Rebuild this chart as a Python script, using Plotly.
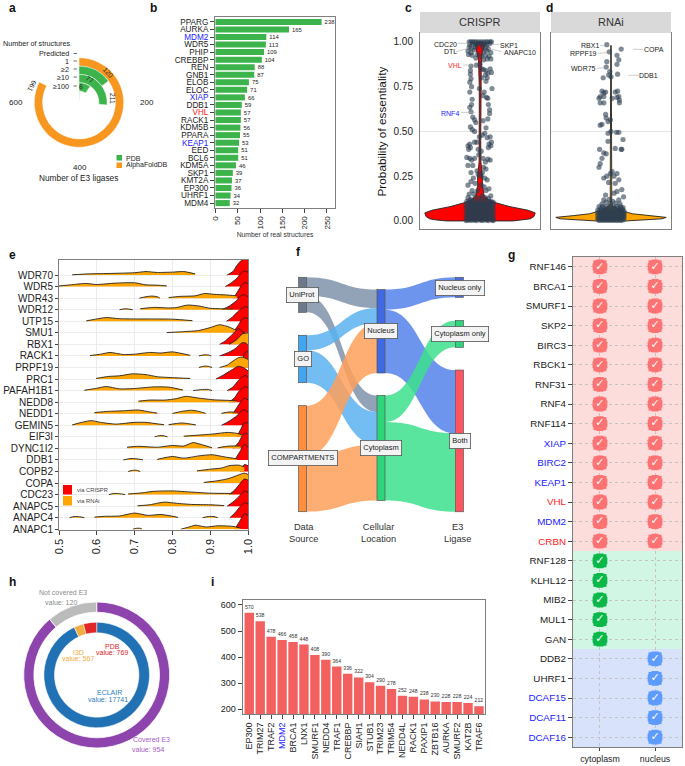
import plotly.graph_objects as go

W, H = 685, 766
FONT = "Liberation Sans"
TXT = "#222222"
BOX = "#7f7f7f"

# ---------- panel a
ring_labels = ["Predicted", "1", "≥2", "≥10", "≥100"]
ring_values = [661, 120, 211, 77, 6]
ring_source = ["AlphaFoldDB", "PDB", "PDB", "PDB", "PDB"]
ring_angle_total = 800

# ---------- panel b
b_genes = ["PPARG", "AURKA", "MDM2", "WDR5", "PHIP", "CREBBP", "REN", "GNB1", "ELOB", "ELOC", "XIAP", "DDB1", "VHL",
           "RACK1", "KDM5B", "PPARA", "KEAP1", "EED", "BCL6", "KDM5A", "SKP1", "KMT2A", "EP300", "UHRF1", "MDM4"]
b_values = [238, 165, 114, 113, 109, 104, 88, 87, 75, 71, 66, 59, 57, 57, 56, 55, 53, 51, 51, 46, 39, 37, 36, 34, 32]
blue_names = {"MDM2", "XIAP", "KEAP1", "BIRC2", "DCAF15", "DCAF11", "DCAF16"}
red_names = {"VHL", "CRBN"}

# ---------- panel c
crispr_points = [
 (-.18,1.0),(-.15,1.0),(-.12,1.0),(-.09,1.0),(-.06,1.0),(-.02,1.0),(.02,1.0),(.06,1.0),(.1,1.0),(.13,1.0),(.17,1.0),(.19,1.0),
 (-.17,.985),(-.12,.99),(-.07,.985),(-.03,.99),(.03,.985),(.08,.99),(.12,.985),(.16,.99),
 (-.18,.97),(-.14,.965),(-.08,.97),(.05,.97),(.1,.97),(.14,.96),(-.2,.95),(-.15,.94),(-.1,.955),(.06,.945),(.11,.95),(.18,.94),
 (-.19,.93),(-.13,.925),(-.04,.93),(.03,.92),(.09,.925),(.15,.92),(.06,.9),(.12,.905),(-.07,.91),(.18,.905),
 (-.06,.87),(.0,.875),(-.15,.865),(-.16,.84),(.03,.85),(.06,.845),(.17,.85),(.1,.84),(.19,.83),(.13,.825),(.09,.815),(-.16,.82),
 (-.15,.795),(-.17,.775),(.03,.8),(.12,.8),(.1,.78),(.2,.74),(-.14,.75),(-.17,.72),(-.01,.74),(.07,.72),(.05,.7),(.11,.69),(.13,.685),
 (-.13,.68),(-.14,.65),(-.17,.635),(.14,.65),(.16,.62),(.16,.6),(-.15,.61),(-.12,.58),(-.09,.565),(-.07,.55),(.05,.56),(.13,.57),
 (-.13,.51),(-.16,.525),(-.09,.5),(.1,.52),(.08,.49),(.04,.48),(-.01,.47),(.17,.47),(.12,.465),(.19,.44),(.15,.43),(.14,.41),(.18,.42),
 (-.17,.43),(-.16,.41),(-.2,.42),(-.19,.4),(-.09,.44),(-.05,.44),(-.03,.4),(.02,.39),(-.02,.37),(-.22,.355),(-.17,.35),(-.14,.34),
 (-.09,.35),(.05,.35),(.09,.33),(.13,.345),(.17,.34),(-.2,.31),(-.12,.31),(.06,.3),(.1,.29),(-.05,.28),(-.15,.27),(.04,.27),(-.03,.26),
 (.02,.25),(.08,.24),(-.11,.24),(.12,.23),(-.15,.22),(-.08,.21),(-.2,.2),(.02,.2),(.07,.19),(.15,.18),(-.13,.17),(-.04,.17),(.1,.17),
 (-.1,.15),(-.18,.15),(.03,.14),(.18,.14),(-.2,.13),(.09,.13),(-.07,.13),(.14,.125),(-.15,.12),(.0,.125),
 (-.22,.11),(-.17,.115),(-.11,.11),(-.05,.11),(.02,.11),(.07,.115),(.12,.11),(.18,.11),(.22,.105),
 (-.23,.09),(-.18,.095),(-.13,.09),(-.08,.095),(-.03,.09),(.02,.095),(.07,.09),(.12,.095),(.17,.09),(.22,.09),
 (-.23,.075),(-.18,.07),(-.13,.075),(-.08,.07),(-.03,.075),(.02,.07),(.07,.075),(.12,.07),(.17,.075),(.22,.07),
 (-.23,.055),(-.18,.05),(-.13,.055),(-.08,.05),(-.03,.055),(.02,.05),(.07,.055),(.12,.05),(.17,.055),(.22,.05),
 (-.23,.035),(-.18,.03),(-.13,.035),(-.08,.03),(-.03,.035),(.02,.03),(.07,.035),(.12,.03),(.17,.035),(.22,.03),
 (-.23,.015),(-.18,.01),(-.13,.015),(-.08,.01),(-.03,.015),(.02,.01),(.07,.015),(.12,.01),(.17,.015),(.22,.01),
 (-.23,.002),(-.15,.003),(-.06,.002),(.04,.003),(.14,.002),(.22,.002),
 (-.2,.1),(-.15,.1),(-.1,.1),(-.05,.1),(0,.1),(.05,.1),(.1,.1),(.15,.1),(.2,.1),
 (-.2,.083),(-.15,.083),(-.1,.083),(-.05,.083),(0,.083),(.05,.083),(.1,.083),(.15,.083),(.2,.083),
 (-.2,.063),(-.15,.063),(-.1,.063),(-.05,.063),(0,.063),(.05,.063),(.1,.063),(.15,.063),(.2,.063),
 (-.2,.043),(-.15,.043),(-.1,.043),(-.05,.043),(0,.043),(.05,.043),(.1,.043),(.15,.043),(.2,.043),
 (-.2,.023),(-.15,.023),(-.1,.023),(-.05,.023),(0,.023),(.05,.023),(.1,.023),(.15,.023),(.2,.023),
 (-.2,.005),(-.1,.005),(0,.005),(.1,.005),(.2,.005),
]
crispr_violin_y = [0.0, .005, .012, .025, .045, .06, .08, .10, .12, .14, .17, .2, .25, .28, .33, .45, .6, .75, .84, .9, .94, .97, .985, 1.0]
crispr_violin_w = [.55, .72, .84, .90, .92, .80, .50, .28, .14, .07, .05, .04, .04, .03, .015, .012, .012, .012, .02, .025, .04, .07, .08, .05]

# ---------- panel d
rnai_points = [
 (-.07,.985),(-.03,.945),(.17,.96),(.1,.925),(.13,.9),(-.07,.89),(-.08,.86),(.1,.875),(.11,.82),(-.04,.815),(0,.805),(-.13,.8),(-.02,.835),
 (-.15,.725),(-.12,.715),(-.09,.72),(.11,.725),(.07,.72),(-.18,.695),(-.2,.685),(-.12,.695),(.02,.685),(.1,.69),(.13,.695),(.14,.675),
 (-.12,.66),(-.18,.66),(.14,.66),(-.09,.595),(-.08,.575),(-.01,.565),(-.05,.555),(-.15,.54),(-.18,.535),(0,.5),(.09,.495),(.13,.495),(-.05,.49),
 (.2,.455),(-.05,.445),(.07,.405),(.18,.4),(.17,.4),(-.19,.4),(-.12,.38),(-.08,.375),(-.15,.35),(-.18,.32),(-.2,.3),(.02,.275),(-.01,.265),
 (.1,.265),(.05,.25),(-.07,.25),(-.12,.24),(.13,.23),(.07,.21),(-.04,.215),(.18,.175),(.1,.165),(.05,.155),(-.09,.145),(.21,.135),(-.12,.118),(.13,.118),
 (-.03,.12),(.03,.11),(-.08,.105),(.08,.1),(-.15,.095),(.15,.095),(-.01,.095),
 (-.2,.08),(-.14,.08),(-.08,.08),(-.02,.08),(.04,.08),(.1,.08),(.16,.08),(.2,.075),
 (-.22,.06),(-.16,.06),(-.1,.06),(-.04,.06),(.02,.06),(.08,.06),(.14,.06),(.2,.06),
 (-.22,.045),(-.16,.045),(-.1,.045),(-.04,.045),(.02,.045),(.08,.045),(.14,.045),(.2,.045),
 (-.22,.03),(-.16,.03),(-.1,.03),(-.04,.03),(.02,.03),(.08,.03),(.14,.03),(.2,.03),
 (-.22,.015),(-.16,.015),(-.1,.015),(-.04,.015),(.02,.015),(.08,.015),(.14,.015),(.2,.015),
 (-.19,.003),(-.13,.003),(-.07,.003),(-.01,.003),(.05,.003),(.11,.003),(.17,.003),
 (-.17,.07),(-.11,.07),(-.05,.07),(.01,.07),(.07,.07),(.13,.07),(.18,.068),
 (-.19,.052),(-.13,.052),(-.07,.052),(-.01,.052),(.05,.052),(.11,.052),(.17,.052),(.22,.052),
 (-.19,.037),(-.13,.037),(-.07,.037),(-.01,.037),(.05,.037),(.11,.037),(.17,.037),(.22,.037),
 (-.19,.022),(-.13,.022),(-.07,.022),(-.01,.022),(.05,.022),(.11,.022),(.17,.022),(.22,.022),
 (-.21,.007),(-.15,.007),(-.09,.007),(-.03,.007),(.03,.007),(.09,.007),(.15,.007),(.21,.007),
]
rnai_violin_y = [0.0, .006, .012, .02, .03, .04, .055, .07, .085, .1, .2, .4, .6, .72, .8, .9, .98]
rnai_violin_w = [.25, .55, .85, .92, .62, .36, .2, .09, .025, .012, .012, .01, .01, .012, .008, .006, .004]

# ---------- panel e (top row first): each piece = (x values, density heights)
e_genes = ["WDR70","WDR5","WDR43","WDR12","UTP15","SMU1","RBX1","RACK1","PRPF19","PRC1","PAFAH1B1","NEDD8","NEDD1",
           "GEMIN5","EIF3I","DYNC1I2","DDB1","COPB2","COPA","CDC23","ANAPC5","ANAPC4","ANAPC1"]
e_rnai = {
 "WDR70": [([.535,.58,.64,.70,.73,.76,.80,.83,.86],[.02,.1,.14,.2,.3,.22,.25,.3,.1])],
 "WDR5": [([.5,.53,.57,.60,.65,.70,.73,.76,.785],[.05,.15,.27,.18,.3,.33,.15,.12,.06])],
 "WDR43": [([.713,.73,.745,.76,.767],[0,.12,.18,.12,0]),([.79,.82,.86,.885,.91,.94,.97],[.05,.15,.2,.4,.33,.28,.2])],
 "WDR12": [([.66,.675,.685,.695],[0,.08,.05,0]),([.715,.75,.79,.81,.84,.87,.90,.93,.96],[.08,.2,.15,.18,.4,.32,.12,.08,.05])],
 "UTP15": [([.572,.60,.625,.66,.70,.75,.80,.853],[.03,.2,.32,.22,.2,.2,.18,.05])],
 "SMU1": [([.785,.83,.87,.90,.925,.95,.97,.99],[.02,.1,.2,.45,.7,.5,.2,.05])],
 "RBX1": [([.95,.97,.985,1.0],[0,.4,.9,1.0])],
 "RACK1": [([.582,.61,.635,.67,.70,.74,.77,.80,.847],[.03,.15,.3,.12,.15,.3,.25,.35,.05]),([.87,.885,.895,.903],[0,.1,.08,0])],
 "PRPF19": [([.87,.885,.895,.905],[0,.12,.1,0]),([.925,.945,.96,.975,.985,1.0],[0,.2,.55,.85,.9,.7])],
 "PRC1": [([.598,.63,.66,.695,.73,.76,.80,.847],[.05,.22,.28,.45,.38,.2,.12,.05])],
 "PAFAH1B1": [([.567,.60,.625,.66,.70,.75,.79,.828],[.03,.2,.35,.15,.18,.32,.3,.05]),([.855,.875,.895,.905],[0,.08,.1,0])],
 "NEDD8": [([.71,.74,.78,.81,.835,.87,.91,.95,.97],[.08,.18,.18,.3,.5,.35,.2,.15,.1])],
 "NEDD1": [([.594,.63,.67,.71,.74,.76],[.1,.2,.25,.32,.15,.05]),([.80,.825,.85,.87,.888],[.02,.2,.3,.2,.02]),([.93,.95,.97],[.03,.15,.12])],
 "GEMIN5": [([.535,.56,.585,.61,.65,.70,.73,.76,.778],[.03,.25,.4,.25,.1,.25,.25,.12,.05]),([.79,.81,.825,.845,.862],[.05,.15,.2,.12,.03])],
 "EIF3I": [([.753,.765,.775,.787],[0,.1,.1,0]),([.83,.87,.91,.945,.97,.99],[.05,.15,.25,.38,.3,.1])],
 "DYNC1I2": [([.68,.71,.76,.80,.83,.855,.88,.905],[.1,.18,.1,.25,.2,.5,.3,.05]),([.92,.95,.98],[.05,.2,.2])],
 "DDB1": [([.67,.69,.705,.722],[0,.12,.1,0]),([.76,.80,.83,.87,.905,.94,.97],[.05,.3,.15,.35,.45,.25,.1])],
 "COPB2": [([.683,.695,.705,.715],[0,.1,.1,0]),([.865,.90,.93,.95,.975,.99],[.05,.2,.3,.5,.55,.4])],
 "COPA": [([.883,.92,.95,.975,.99,1.0],[.05,.2,.4,.7,.85,.75])],
 "CDC23": [([.632,.645,.66,.675],[0,.1,.08,0]),([.683,.72,.75,.80,.85,.90,.96],[.05,.15,.28,.32,.22,.12,.1])],
 "ANAPC5": [([.708,.74,.76,.78,.81,.85,.90,.937],[.03,.12,.25,.35,.25,.15,.12,.05])],
 "ANAPC4": [([.528,.54,.555,.567],[0,.1,.08,0]),([.594,.62,.66,.70,.735,.77,.815],[.05,.12,.15,.4,.2,.28,.03]),([.88,.895,.91,.92],[0,.1,.1,0])],
 "ANAPC1": [([.695,.705,.715,.72],[0,.08,.08,0]),([.822,.85,.86,.89,.92,.96,.98],[0,.25,.35,.2,.3,.25,.1])],
}
e_crispr = {
 "WDR70": ([.945,.96,.97,.98,.99,1.0],[0,.3,.8,1.2,1.4,1.3]),
 "WDR5": ([.94,.955,.97,.98,.99,1.0],[0,.3,.7,1.1,1.35,1.25]),
 "WDR43": ([.962,.975,.985,.995,1.0],[0,.7,1.2,1.35,1.25]),
 "WDR12": ([.93,.95,.97,.98,.99,1.0],[0,.3,.8,1.2,1.3,1.1]),
 "UTP15": ([.943,.96,.975,.985,.995,1.0],[0,.4,.9,1.15,1.25,1.2]),
 "SMU1": ([.96,.975,.985,.995,1.0],[0,.7,1.2,1.3,1.2]),
 "RBX1": ([.925,.94,.96,.975,.985,1.0],[0,.3,.9,1.35,1.1,.8]),
 "RACK1": ([.925,.945,.965,.985,.995,1.0],[0,.25,.6,1.15,1.1,.9]),
 "PRPF19": ([.97,.985,.995,1.0],[0,.8,1.4,1.3]),
 "PRC1": ([.915,.935,.955,.975,.99,1.0],[0,.35,.75,1.1,.95,.7]),
 "PAFAH1B1": ([.945,.96,.975,.985,.995,1.0],[0,.3,.9,1.2,1.3,1.1]),
 "NEDD8": ([.95,.965,.975,.985,.995,1.0],[0,.4,.9,1.2,1.35,1.2]),
 "NEDD1": ([.96,.97,.98,.99,1.0],[0,.5,1.0,1.35,1.2]),
 "GEMIN5": ([.93,.95,.97,.985,.995,1.0],[0,.35,.8,1.3,1.3,1.1]),
 "EIF3I": ([.97,.98,.99,1.0],[0,.6,1.2,1.2]),
 "DYNC1I2": ([.96,.975,.985,.995,1.0],[0,.5,1.1,1.35,1.2]),
 "DDB1": ([.965,.98,.99,1.0],[0,.8,1.35,1.1]),
 "COPB2": ([.98,.99,1.0],[0,.6,.5]),
 "COPA": ([.985,.995,1.0],[0,.3,.3]),
 "CDC23": ([.95,.965,.98,.99,1.0],[0,.4,1.0,1.35,1.25]),
 "ANAPC5": ([.945,.96,.975,.99,1.0],[0,.35,.8,1.3,1.2]),
 "ANAPC4": ([.952,.965,.98,.99,1.0],[0,.4,1.0,1.3,1.2]),
 "ANAPC1": ([.965,.98,.99,1.0],[0,.8,1.35,1.2]),
}

# ---------- panel f
sankey_nodes = ["UniProt", "GO", "COMPARTMENTS", "Nucleus", "Cytoplasm", "Nucleus only", "Cytoplasm only", "Both"]
sankey_source = [0, 0, 1, 1, 2, 2, 3, 3, 4, 4]
sankey_target = [3, 4, 3, 4, 3, 4, 5, 7, 6, 7]
sankey_value = [55, 50, 45, 97, 150, 168, 60, 190, 80, 235]

# ---------- panel g
g_both = ["RNF146","BRCA1","SMURF1","SKP2","BIRC3","RBCK1","RNF31","RNF4","RNF114","XIAP","BIRC2","KEAP1","VHL","MDM2","CRBN"]
g_cyto = ["RNF128","KLHL12","MIB2","MUL1","GAN"]
g_nuc = ["DDB2","UHRF1","DCAF15","DCAF11","DCAF16"]

# ---------- panel h
h_outer_labels = ["Covered E3", "Not covered E3"]
h_outer_values = [954, 120]
h_inner_labels = ["ECLAIR", "I3D", "PDB"]
h_inner_values = [17741, 567, 769]

# ---------- panel i
i_genes = ["EP300","TRIM27","TRAF2","MDM2","BRCA1","LNX1","SMURF1","NEDD4","TRAF1","CREBBP","SIAH1","STUB1","TRIM23","TRIM54",
           "NEDD4L","RACK1","PAXIP1","ZBTB16","AURKA","SMURF2","KAT2B","TRAF6"]
i_values = [570,538,478,466,458,448,408,390,364,336,322,304,290,278,252,248,238,230,228,228,224,212]


def fx(x): return x / W
def fy(y): return 1 - y / H
def dom_x(a, b): return [fx(a), fx(b)]
def dom_y(top, bottom): return [fy(bottom), fy(top)]


def colored(name):
    if name in blue_names:
        return f'<span style="color:#2222ff">{name}</span>'
    if name in red_names:
        return f'<span style="color:#ff1a1a">{name}</span>'
    return name


fig = go.Figure()
annots, shapes = [], []


def note(x, y, text, size=8, color=TXT, anchor="center", angle=0, **kw):
    annots.append(dict(x=fx(x), y=fy(y), xref="paper", yref="paper", text=text, showarrow=False, xanchor=anchor,
                       yanchor="middle", textangle=angle, font=dict(size=size, color=color, family=FONT), **kw))


def rule(x0, y0, x1, y1, color="#999999", width=0.6):
    shapes.append(dict(type="line", xref="paper", yref="paper", x0=fx(x0), y0=fy(y0), x1=fx(x1), y1=fy(y1),
                       line=dict(color=color, width=width)))


def rect(x0, y0, x1, y1, fill, line=None):
    shapes.append(dict(type="rect", xref="paper", yref="paper", x0=fx(x0), y0=fy(y0), x1=fx(x1), y1=fy(y1),
                       fillcolor=fill, line=dict(color=line or fill, width=0.8 if line else 0)))


def axis(dom, **kw):
    base = dict(domain=dom, automargin=False, showline=True, linecolor=BOX, linewidth=1, mirror=True, zeroline=False, showgrid=False,
                ticks="outside", ticklen=4, tickwidth=0.7, tickcolor="#444444",
                tickfont=dict(family=FONT, size=8, color=TXT))
    base.update(kw)
    return base


# ---- a: radial bars
GREEN = "#3cb44b"
ORANGE = "#f8971f"
n_rings = len(ring_values)
for i, (v, src) in enumerate(zip(ring_values, ring_source)):
    span = v * 360 / ring_angle_total
    fig.add_trace(go.Barpolar(r=[1], base=[n_rings + 0.4 - i - 1], theta=[span / 2], width=[span],
                              marker=dict(color=ORANGE if src == "AlphaFoldDB" else GREEN, line=dict(color="white", width=0.5)),
                              hoverinfo="skip", subplot="polar", showlegend=False))
for lab, yy in zip(ring_labels, [53.5, 61, 69, 77, 86]):
    note(71, yy, lab, size=7.2, anchor="right")
    rule(73.5, yy, 77, yy, "#333333", 0.7)
note(72.5, 44, "Number of structures", size=7.2, anchor="right")
note(15.5, 103, "600", size=8)
note(147, 103, "200", size=8)
note(80, 167, "400", size=8)
note(78, 177.5, "Number of E3 ligases", size=8.3)
for x, y, v, ang in [(112, 98, 211, 90), (108, 73, 120, 48), (90, 79, 77, 32), (81, 86, 6, 2), (32.5, 86, 661, 118)]:
    note(x, y, str(v), size=6.8, color="#222222", angle=ang)
rect(116.5, 155, 122, 160.5, GREEN)
rect(116.5, 162.5, 122, 168, ORANGE)
note(124, 158, "PDB", size=7, anchor="left")
note(124, 165.5, "AlphaFoldDB", size=7, anchor="left")

# ---- b
fig.add_trace(go.Bar(y=b_genes, x=b_values, orientation="h", xaxis="x", yaxis="y", marker=dict(color=GREEN, line=dict(width=0)),
                     width=0.8, text=b_values, textposition="outside", cliponaxis=False,
                     textfont=dict(size=6.8, family=FONT, color=TXT), hoverinfo="skip", showlegend=False))

# ---- c, d
POINT = "#2c3e50"


def violin(points, vy, vw, fill, xa, ya):
    xs = [w for w in vw] + [-w for w in reversed(vw)] + [vw[0]]
    ys = list(vy) + list(reversed(vy)) + [vy[0]]
    fig.add_trace(go.Scatter(x=xs, y=ys, mode="lines", fill="toself", fillcolor=fill, line=dict(color="#222222", width=0.9),
                             xaxis=xa, yaxis=ya, hoverinfo="skip", showlegend=False))
    fig.add_trace(go.Scatter(x=[p[0] for p in points], y=[p[1] for p in points], mode="markers",
                             marker=dict(size=5.2, color=POINT, opacity=0.6, line=dict(width=0)),
                             xaxis=xa, yaxis=ya, hoverinfo="skip", showlegend=False))


violin(crispr_points, crispr_violin_y, crispr_violin_w, "#ff0000", "x2", "y2")
violin(rnai_points, rnai_violin_y, rnai_violin_w, "#ffa500", "x3", "y3")
for a, b in [(420, 540), (551, 671)]:
    rect(a, 12, b, 33, "#d9d9d9")
note(480, 22.5, "CRISPR", size=11, color="#333333")
note(611, 22.5, "RNAi", size=11, color="#333333")
note(381, 131.5, "Probability of essentiality", size=11.8, color="#111111", angle=-90)
OX = 370
for cx0, cy, cx1, cy1 in [(263,130,300,130),(258,155,295,145),(388,133,352,135),(395,155,355,145),(280,195,305,195),(272,338,315,338),
                          (690,137,705,137),(683,160,712,158),(680,205,705,203),(820,148,790,148),(806,226,776,226)]:
    rule(OX + cx0 / 3, cy / 3, OX + cx1 / 3, cy1 / 3, "#aaaaaa", 0.6)
for cx, cy, t, col in [(225,133,"CDC20",TXT),(240,155,"DTL",TXT),(418,135,"SKP1",TXT),(449,157,"ANAPC10",TXT),(256,197,"VHL","#ff1a1a"),
                       (241,339,"RNF4","#2222ff"),(661,137,"RBX1",TXT),(641,161,"RPPF19",TXT),(641,205,"WDR75",TXT),(852,149,"COPA",TXT),(835,226,"DDB1",TXT)]:
    note(OX + cx / 3, cy / 3, t, size=7, color=col)


# ---- e
def ridge(xs, hs, row, fill):
    # filled body down to the row baseline, then the outline along the top only
    fig.add_trace(go.Scatter(x=[xs[0]] + list(xs) + [xs[-1]], y=[row] + [row + h for h in hs] + [row], mode="lines",
                             line=dict(width=0, shape="spline", smoothing=0.6), fill="toself", fillcolor=fill, xaxis="x4", yaxis="y4",
                             hoverinfo="skip", showlegend=False))
    fig.add_trace(go.Scatter(x=xs, y=[row + h for h in hs], mode="lines", line=dict(color="#222222", width=0.9, shape="spline", smoothing=0.6),
                             xaxis="x4", yaxis="y4", hoverinfo="skip", showlegend=False))


for gene_i, gene in enumerate(e_genes):
    row = len(e_genes) - 1 - gene_i
    ridge(*e_crispr[gene], row, "#ff0000")
    for xs, hs in e_rnai[gene]:
        ridge(xs, hs, row, "#ffa500")
rect(63, 485, 72, 494.5, "#ff0000")
rect(63, 496, 72, 505.5, "#ffa500")
note(75, 490, "via CRISPR", size=5.8, color="#444444", anchor="left")
note(75, 501, "via RNAi", size=5.8, color="#444444", anchor="left")

# ---- f
node_colors = ["#6c7a8c", "#42a5f0", "#ff8f3f", "#4169e1", "#2fd57a", "#4a70e0", "#2ed67b", "#ff5560"]
link_palette = {0: "rgba(120,140,165,0.8)", 1: "rgba(90,178,240,0.85)", 2: "rgba(255,160,90,0.85)",
                3: "rgba(85,130,235,0.85)", 4: "rgba(60,225,140,0.85)"}
fig.add_trace(go.Sankey(
    domain=dict(x=dom_x(298, 464), y=dom_y(277.3, 511.7)),
    arrangement="fixed",
    node=dict(label=[""] * len(sankey_nodes), color=node_colors, thickness=8, pad=23,
              x=[0.028, 0.028, 0.028, 0.5, 0.5, 0.972, 0.972, 0.972],
              y=[0.0747, 0.3485, 0.7738, 0.2304, 0.728, 0.0427, 0.2418, 0.698],
              line=dict(color="#555555", width=0.7), hoverinfo="skip"),
    link=dict(source=sankey_source, target=sankey_target, value=sankey_value,
              color=[link_palette[s] for s in sankey_source], hoverinfo="skip"),
))
for x, y, t in [(302.7,295,"UniProt"),(302.7,359,"GO"),(302.7,458,"COMPARTMENTS"),(381,331,"Nucleus"),(381,448,"Cytoplasm"),
                (459.7,288,"Nucleus only"),(459.7,334,"Cytoplasm only"),(459.7,441,"Both")]:
    note(x, y, t, size=7.5, color="#222222", bgcolor="#f3f3f3", bordercolor="#555555", borderwidth=0.8, borderpad=2.5)
for x, t in [(303, "Data<br>Source"), (378, "Cellular<br>Location"), (457, "E3<br>Ligase")]:
    note(x, 532.5, t, size=9.3, color="#333333")

# ---- g
g_all = g_both + g_cyto + g_nuc
BAND = {"both": "#fddcdc", "cyto": "#d1f6e3", "nuc": "#d8e2fa"}
n1, n2 = len(g_both), len(g_both) + len(g_cyto)
for lo, hi, c in [(-0.5, n1 - 0.5, BAND["both"]), (n1 - 0.5, n2 - 0.5, BAND["cyto"]), (n2 - 0.5, len(g_all) - 0.5, BAND["nuc"])]:
    shapes.append(dict(type="rect", xref="x5", yref="y5", x0=-0.49, x1=1.49, y0=lo, y1=hi, fillcolor=c, line=dict(width=0), layer="below"))


def checks(xname, names, color):
    for sym, size in [("square", 13), ("octagon", 16)]:
        fig.add_trace(go.Scatter(x=[xname] * len(names), y=names, mode="markers", marker=dict(symbol=sym, size=size, color=color, line=dict(width=0)),
                                 xaxis="x5", yaxis="y5", hoverinfo="skip", showlegend=False))
    fig.add_trace(go.Scatter(x=[xname] * len(names), y=names, mode="text", text=["✓"] * len(names),
                             textfont=dict(family="DejaVu Sans", size=11, color="white"), textposition="middle center",
                             xaxis="x5", yaxis="y5", hoverinfo="skip", showlegend=False))


checks("cytoplasm", g_both, "#fd7272")
checks("nucleus", g_both, "#fd7272")
checks("cytoplasm", g_cyto, "#0ab84a")
checks("nucleus", g_nuc, "#5d9bfd")

# ---- h
fig.add_trace(go.Pie(labels=h_outer_labels, values=h_outer_values, sort=False, direction="clockwise", rotation=0, hole=0.86,
                     marker=dict(colors=["#8e44ad", "#bbbbbb"], line=dict(color="white", width=0.8)),
                     textinfo="none", hoverinfo="skip", showlegend=False, domain=dict(x=dom_x(23.7, 169.7), y=dom_y(602, 748))))
fig.add_trace(go.Pie(labels=h_inner_labels, values=h_inner_values, sort=False, direction="clockwise", rotation=0, hole=0.80,
                     marker=dict(colors=["#2171b5", "#f0ad42", "#e02626"], line=dict(color="white", width=0.5)),
                     textinfo="none", hoverinfo="skip", showlegend=False, domain=dict(x=dom_x(43.9, 149.5), y=dom_y(622.2, 727.8))))
for x, y, t, c in [(63,592.7,"Not covered E3","#8c8c8c"),(61,602.7,"value: 120","#8c8c8c"),(112,646,"PDB","#e02626"),(112,652.7,"value: 769","#e02626"),
                   (78,652.7,"I3D","#f0ad42"),(78,658.7,"value: 567","#f0ad42"),(109,692.7,"ECLAIR","#2f80c0"),(108,699,"value: 17741","#2f80c0"),
                   (151.7,739,"Covered E3","#a55cc5"),(148,749,"value: 954","#a55cc5")]:
    note(x, y, t, size=7, color=c)

# ---- i
fig.add_trace(go.Bar(x=i_genes, y=i_values, xaxis="x6", yaxis="y6", marker=dict(color="#f26060", line=dict(width=0)), width=0.86,
                     text=i_values, textposition="outside", cliponaxis=False, textfont=dict(size=5.2, family=FONT, color="#333333"),
                     hoverinfo="skip", showlegend=False))

# ---- panel letters
for x, y, t in [(12,8,"a"),(153,8,"b"),(408,8,"c"),(549,8,"d"),(12,255,"e"),(298,252,"f"),(511,255,"g"),(12,582,"h"),(212,582,"i")]:
    note(x, y, f"<b>{t}</b>", size=12, color="#111111")

fig.update_layout(
    template="none",
    width=W, height=H, margin=dict(l=0, r=0, t=0, b=0, pad=0), paper_bgcolor="white", plot_bgcolor="white",
    autosize=False, showlegend=False, hovermode=False, bargap=0.15,
    font=dict(family=FONT, color=TXT),
    polar=dict(domain=dict(x=dom_x(26, 132), y=dom_y(49.5, 155.5)), bgcolor="rgba(0,0,0,0)",
               angularaxis=dict(visible=False, rotation=90, direction="clockwise"),
               radialaxis=dict(visible=False, range=[0, 6.4])),
    xaxis=axis(dom_x(215, 335), anchor="y", range=[-1, 268], tickvals=[0, 50, 100, 150, 200, 250], tickangle=-90,
               title=dict(text="Number of real structures", font=dict(size=6.8, family=FONT, color="#333333"), standoff=3)),
    yaxis=axis(dom_y(17, 208), anchor="x", type="category", categoryorder="array", categoryarray=b_genes, autorange=False, range=[24.65, -0.65],
               tickvals=b_genes, ticktext=[colored(g) for g in b_genes], tickfont=dict(size=8.2, family=FONT, color=TXT)),
    xaxis2=axis(dom_x(420, 540), anchor="y2", range=[-1, 1], showticklabels=False, ticks=""),
    yaxis2=axis(dom_y(33, 229), anchor="x2", range=[-0.045, 1.05], tickvals=[0, .25, .5, .75, 1], ticktext=["0.00", "0.25", "0.50", "0.75", "1.00"],
                tickfont=dict(size=10, family=FONT, color=TXT), tickcolor="rgba(0,0,0,0)", ticklen=4, showgrid=False),
    xaxis3=axis(dom_x(551, 671), anchor="y3", range=[-1, 1], showticklabels=False, ticks=""),
    yaxis3=axis(dom_y(33, 229), anchor="x3", range=[-0.045, 1.05], showticklabels=False, ticks="", tickvals=[0.5]),
    xaxis4=axis(dom_x(59, 248), anchor="y4", range=[0.5, 1.0], tickvals=[.5, .6, .7, .8, .9, 1.0], ticktext=["0.5", "0.6", "0.7", "0.8", "0.9", "1.0"],
                tickangle=-90, tickfont=dict(size=11, family=FONT, color=TXT), showgrid=True, gridcolor="#ececec", gridwidth=0.6),
    yaxis4=axis(dom_y(260, 529.5), anchor="x4", range=[-0.02, 23.3], tickvals=list(range(len(e_genes))), ticktext=e_genes[::-1], ticklen=3,
                tickfont=dict(size=10, family=FONT, color=TXT), showgrid=True, gridcolor="#ececec", gridwidth=0.6),
    xaxis5=axis(dom_x(573, 682), anchor="y5", type="category", categoryorder="array", categoryarray=["cytoplasm", "nucleus"], range=[-0.49, 1.49],
                showgrid=True, griddash="dot", gridcolor="#c4c4c4", gridwidth=0.4, ticklen=3, tickfont=dict(size=8.8, family=FONT, color=TXT)),
    yaxis5=axis(dom_y(257, 747), anchor="x5", type="category", categoryorder="array", categoryarray=g_all, range=[len(g_all) - 0.5, -0.5],
                tickvals=g_all, ticktext=[colored(g) for g in g_all], tickfont=dict(size=9.8, family=FONT, color=TXT),
                showgrid=True, griddash="dot", gridcolor="#c4c4c4", gridwidth=0.4),
    xaxis6=axis(dom_x(242.7, 485), anchor="y6", type="category", categoryorder="array", categoryarray=i_genes, tickvals=i_genes,
                ticktext=[colored(g) for g in i_genes], tickangle=-90, range=[-0.6, len(i_genes) - 0.45], tickfont=dict(size=9, family=FONT, color=TXT)),
    yaxis6=axis(dom_y(600, 714), anchor="x6", range=[182, 619], tickvals=[200, 300, 400, 500, 600], tickfont=dict(size=9, family=FONT, color=TXT)),
    annotations=annots,
    shapes=shapes
    + [dict(type="line", xref="x2 domain", yref="y2", x0=0, x1=1, y0=0.5, y1=0.5, line=dict(color="#dddddd", width=0.8), layer="below"),
       dict(type="line", xref="x3 domain", yref="y3", x0=0, x1=1, y0=0.5, y1=0.5, line=dict(color="#dddddd", width=0.8), layer="below")],
)

fig.write_html("out.html", config=dict(displayModeBar=False),
               post_script="document.body.style.margin='0';document.body.style.padding='0';")
